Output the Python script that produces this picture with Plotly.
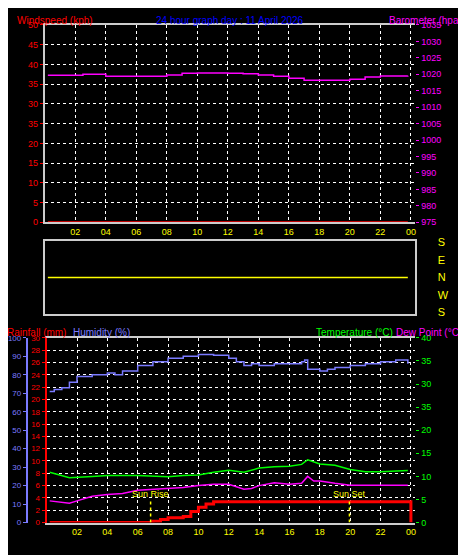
import plotly.graph_objects as go

# time in hours (0-24)
hum_t = [0.2, 0.5, 1.0, 1.5, 2.0, 3.0, 4.0, 4.5, 5.0, 6.0, 7.0, 8.0, 9.0, 10.0, 11.0, 12.0,
         12.5, 13.0, 13.5, 14.0, 15.0, 16.0, 16.8, 17.0, 17.2, 18.0, 18.5, 19.0, 20.0, 21.0, 22.0, 23.0, 23.8]
humidity = [71, 72, 73, 76, 79, 80, 81, 80, 82, 85, 87, 89, 90, 91, 90.5, 89,
            87, 85, 86, 85, 86, 86, 87, 88, 83, 82, 83, 84, 85, 86, 87, 88, 86]

temp_t = [0.2, 1.5, 3, 4, 6, 8, 9, 10, 11, 12, 13, 14, 15, 16, 16.8, 17, 17.2, 18, 19, 20, 21, 22, 23.8]
temperature = [10.9, 9.7, 10.0, 10.2, 10.2, 9.9, 10.2, 10.3, 10.9, 11.3, 10.9, 11.8, 12.1, 12.2, 12.6,
               13.1, 13.6, 12.7, 12.4, 11.5, 11.0, 11.0, 11.3]

dew_t = [0.2, 1.5, 2, 3, 4, 5, 6, 7, 8, 9, 10, 11, 12, 13, 13.5, 14, 15, 16, 16.8, 17.2, 17.6, 18, 19, 20, 22, 23.8]
dew_point = [4.7, 4.2, 4.7, 5.7, 6.1, 6.3, 7.0, 7.2, 7.3, 7.6, 8.0, 8.3, 8.3, 7.2, 7.4, 8.0, 8.6, 8.3,
             8.5, 10.0, 9.0, 9.0, 8.5, 8.1, 8.1, 8.1]

rain_t = [0.2, 6.5, 7, 7.5, 8, 9, 9.5, 10, 10.5, 11, 11.5, 12, 23.9, 24.0]
rainfall = [0, 0, 0.2, 0.5, 0.8, 1.0, 1.8, 2.5, 3.0, 3.4, 3.4, 3.4, 3.4, 0]

baro_t = [0.2, 2.5, 4, 6, 8, 9, 10, 12, 13, 14, 15, 16, 17, 18, 19, 20, 21, 22, 23.8]
barometer = [1019.7, 1020.0, 1019.4, 1019.4, 1019.8, 1020.3, 1020.4, 1020.3, 1020.2, 1019.8, 1019.4,
             1018.8, 1018.2, 1018.2, 1018.2, 1018.5, 1019.2, 1019.5, 1019.6]

wind_t = [0.2, 23.8]
windspeed = [0, 0]
wind_dir = ["N", "N"]
DIR_POS = {"S": 0, "W": 1, "N": 2, "E": 3}

hour_vals = list(range(2, 25, 2))
hour_text = ["02", "04", "06", "08", "10", "12", "14", "16", "18", "20", "22", "00"]
wind_ticks = [0, 5, 10, 15, 20, 25, 30, 35, 40, 45, 50]
wind_text = ["0", "5", "10", "15", "20", "35", "30", "35", "40", "45", "50"]
temp_ticks = [0, 5, 10, 15, 20, 25, 30, 35, 40]
temp_text = ["0", "5", "10", "15", "20", "35", "30", "35", "40"]
sun_rise, sun_set = 6.85, 19.95

FONT = "Liberation Sans"
GRID = dict(showgrid=True, gridcolor="white", griddash="dot", gridwidth=1, zeroline=False)

fig = go.Figure()
fig.add_trace(go.Scatter(x=baro_t, y=barometer, xaxis="x", yaxis="y2", mode="lines",
                         line=dict(color="#ff00ff", width=1.5, shape="hv")))
fig.add_trace(go.Scatter(x=wind_t, y=windspeed, xaxis="x", yaxis="y", mode="lines",
                         line=dict(color="#ff0000", width=2)))
fig.add_trace(go.Scatter(x=wind_t, y=[DIR_POS[d] for d in wind_dir], xaxis="x2", yaxis="y3",
                         mode="lines", line=dict(color="#ffff00", width=1.5)))
fig.add_trace(go.Scatter(x=hum_t, y=humidity, xaxis="x3", yaxis="y5", mode="lines",
                         line=dict(color="#7b7bff", width=1.5, shape="hv")))
fig.add_trace(go.Scatter(x=temp_t, y=temperature, xaxis="x3", yaxis="y6", mode="lines",
                         line=dict(color="#00ff00", width=1.5)))
fig.add_trace(go.Scatter(x=dew_t, y=dew_point, xaxis="x3", yaxis="y6", mode="lines",
                         line=dict(color="#ff00ff", width=1.5)))
fig.add_trace(go.Scatter(x=rain_t, y=rainfall, xaxis="x3", yaxis="y4", mode="lines",
                         line=dict(color="#ff0000", width=3, shape="hv")))

tick_x = dict(tickvals=hour_vals, ticktext=hour_text, tickfont=dict(color="#ffff00", size=9),
              range=[0, 24.3], showline=True, linecolor="#cccccc", linewidth=2, mirror=True,
              ticks="", **GRID)

for pos, lab in [(sun_rise, "Sun Rise"), (sun_set, "Sun Set")]:
    fig.add_shape(type="line", xref="x3", yref="y4", x0=pos, x1=pos, y0=0, y1=3.6,
                  line=dict(color="#ffff00", width=1.5, dash="dot"))
    fig.add_annotation(xref="x3", yref="y4", x=pos, y=4.7, text=lab, showarrow=False,
                       font=dict(color="#ffff00", size=9, family=FONT))

ann = [
    (0.005, 1.0, "left", "Windspeed (kph)", "#ff0000"),
    (0.47, 1.0, "center", "24 hour graph day : 11 April 2026", "#0000ff"),
    (0.978, 1.0, "right", "Barometer (hpa)", "#ff00ff"),
    (-0.017, 0.427, "left", "Rainfall (mm)", "#ff0000"),
    (0.125, 0.427, "left", "Humidity (%)", "#7b7bff"),
    (0.652, 0.427, "left", "Temperature (°C)", "#00ff00"),
    (0.978, 0.427, "right", "Dew Point (°C)", "#ff00ff"),
]
for x, y, xa, txt, col in ann:
    fig.add_annotation(xref="paper", yref="paper", x=x, y=y, xanchor=xa, yanchor="top",
                       text=txt, showarrow=False, font=dict(color=col, size=10, family=FONT))

fig.update_layout(
    width=466, height=555, margin=dict(l=0, r=0, t=0, b=0),
    paper_bgcolor="black", plot_bgcolor="black", showlegend=False,
    font=dict(family=FONT, size=9),
    xaxis=dict(domain=[0.069, 0.873], anchor="y", **tick_x),
    yaxis=dict(domain=[0.616, 0.978], range=[0, 50], tickvals=wind_ticks, ticktext=wind_text,
               tickfont=dict(color="#ff0000", size=9), ticks="outside", ticklen=3,
               tickcolor="#ff0000", showline=True, linecolor="#cccccc", linewidth=2, **GRID),
    yaxis2=dict(overlaying="y", side="right", range=[975, 1035], dtick=5,
                tickfont=dict(color="#ff00ff", size=9), ticks="outside", ticklen=3,
                tickcolor="#ff00ff", showgrid=False, zeroline=False),
    xaxis2=dict(domain=[0.069, 0.873], anchor="y3", range=[0, 24.3], showticklabels=False,
                showgrid=False, zeroline=False, showline=True, linecolor="#cccccc",
                linewidth=2, mirror=True),
    yaxis3=dict(domain=[0.447, 0.582], anchor="x2", side="right", range=[-0.1, 4.1],
                tickvals=[0, 1, 2, 3, 4], ticktext=["S", "W", "N", "E", "S"],
                tickfont=dict(color="#ffff00", size=11), ticklabelstandoff=18,
                showgrid=False, zeroline=False, showline=True, linecolor="#cccccc",
                linewidth=2, mirror=True),
    xaxis3=dict(domain=[0.073, 0.873], anchor="y4", **tick_x),
    yaxis4=dict(domain=[0.065, 0.404], anchor="x3", range=[0, 30], dtick=2,
                tickfont=dict(color="#ff0000", size=8), ticks="outside", ticklen=3,
                tickcolor="#ff0000", showline=True, linecolor="#ff0000", linewidth=2, **GRID),
    yaxis5=dict(overlaying="y4", anchor="free", position=0.03, range=[0, 100], dtick=10,
                tickfont=dict(color="#7b7bff", size=8), ticks="outside", ticklen=3,
                tickcolor="#7b7bff", showline=True, linecolor="#7b7bff", linewidth=2,
                showgrid=False, zeroline=False),
    yaxis6=dict(overlaying="y4", side="right", anchor="x3", range=[0, 40], tickvals=temp_ticks,
                ticktext=temp_text, tickfont=dict(color="#00ff00", size=9), ticks="outside",
                ticklen=3, tickcolor="#00ff00", showgrid=False, zeroline=False),
)

fig.write_html("out.html")
